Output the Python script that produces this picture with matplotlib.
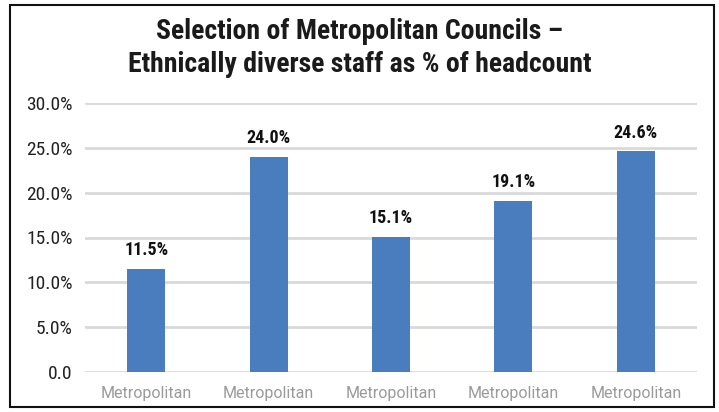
import numpy as np
import matplotlib.pyplot as plt
from matplotlib.patches import Rectangle

categories = ["Metropolitan"] * 5
values = [11.5, 24.0, 15.1, 19.1, 24.6]
yticks = [0, 5, 10, 15, 20, 25, 30]
ytick_labels = ["0.0", "5.0%", "10.0%", "15.0%", "20.0%", "25.0%", "30.0%"]
title = "Selection of Metropolitan Councils \u2013\nEthnically diverse staff as % of headcount"

W, H = 719, 412
fig = plt.figure(figsize=(W / 100, H / 100), dpi=100)
cond = ["Roboto Condensed", "DejaVu Sans"]

# plot area in pixels: x 85..697, y 103..372 (top-down)
ax = fig.add_axes([85 / W, 1 - 372 / H, 612 / W, (372 - 103) / H])
x = np.arange(len(values))
ax.bar(x, values, width=0.31, color="#4a7dbe", zorder=3)
ax.set_xlim(-0.5, len(values) - 0.5)
ax.set_ylim(0, 30)
ax.set_yticks(yticks)
ax.set_yticklabels(ytick_labels, fontsize=14, family=cond, color="#222222")
ax.set_xticks(x)
ax.set_xticklabels(categories, fontsize=11.5, family=["Roboto", "DejaVu Sans"],
                   fontweight="normal", color="#9a9a9a")
ax.tick_params(axis="both", length=0)
ax.tick_params(axis="y", pad=9)
ax.tick_params(axis="x", pad=10)
ax.grid(axis="y", color="#d9d9d9", linewidth=2, zorder=0)
for s in ax.spines.values():
    s.set_visible(False)

for xi, v in zip(x, values):
    ax.text(xi, v + 1.1, f"{v:.1f}%", ha="center", va="bottom",
            fontsize=13, fontweight="bold", family=cond, color="#111111")

fig.text(0.5, 1 - 48 / H, title, ha="center", va="center", fontsize=20,
         fontweight="bold", family=cond, color="#1a1a1a", linespacing=1.25)

fig.add_artist(Rectangle((10 / W, 1 - 407 / H), (714 - 10) / W, (407 - 5) / H,
                         transform=fig.transFigure, fill=False,
                         edgecolor="#111111", linewidth=1.5))

fig.savefig("out.png", dpi=100)
